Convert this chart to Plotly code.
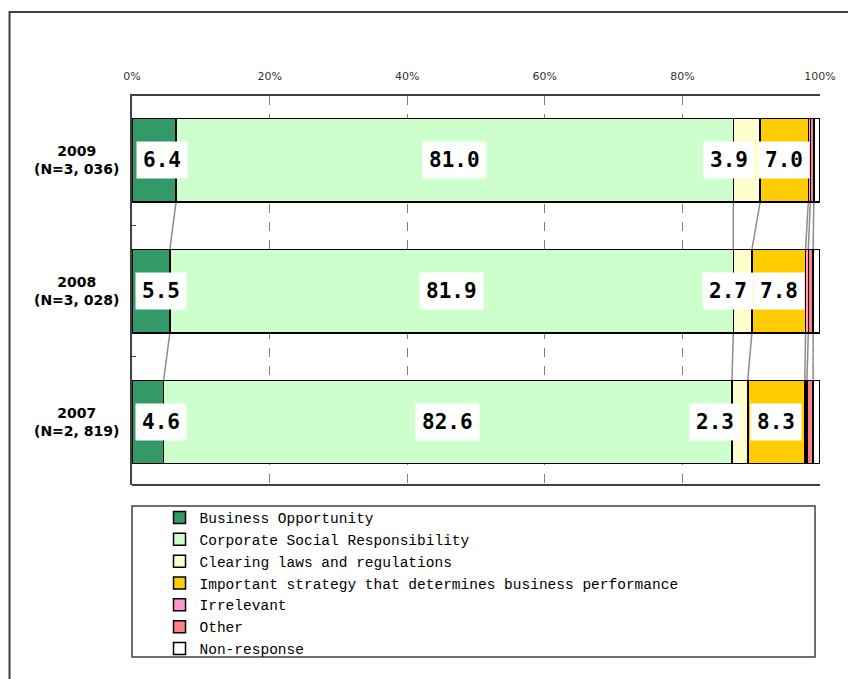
import plotly.graph_objects as go

categories = ["2009<br>(N=3, 036)", "2008<br>(N=3, 028)", "2007<br>(N=2, 819)"]
year_labels = ["2009", "2008", "2007"]
n_labels = ["(N=3, 036)", "(N=3, 028)", "(N=2, 819)"]
series_names = [
    "Business Opportunity",
    "Corporate Social Responsibility",
    "Clearing laws and regulations",
    "Important strategy that determines business performance",
    "Irrelevant",
    "Other",
    "Non-response",
]
business = [6.4, 5.5, 4.6]
csr = [81.0, 81.9, 82.6]
clearing = [3.9, 2.7, 2.3]
strategy = [7.0, 7.8, 8.3]
irrelevant = [0.3, 0.4, 0.3]
other = [0.5, 0.7, 0.9]
nonresp = [0.9, 1.0, 1.0]
tick_vals = [0, 20, 40, 60, 80, 100]
tick_text = ["0%", "20%", "40%", "60%", "80%", "100%"]

series = [business, csr, clearing, strategy, irrelevant, other, nonresp]
colors = ["#339966", "#CCFFCC", "#FFFFCC", "#FFCC00", "#FF99CC", "#FF8080", "#FFFFFF"]
BAR_W = 0.637

fig = go.Figure()
for name, vals, col in zip(series_names, series, colors):
    fig.add_trace(go.Bar(
        y=categories, x=vals, name=name, orientation="h",
        marker=dict(color=col, line=dict(color="#000000", width=1.5)),
        width=BAR_W, hoverinfo="x+name",
    ))

# cumulative boundaries
cums = []
for i in range(len(categories)):
    c = [0]
    for s in series:
        c.append(c[-1] + s[i])
    cums.append(c)

PH = 389.0  # plot height in px
shapes = []
# series connector lines
for i in range(len(categories) - 1):
    for k in range(1, len(series)):
        shapes.append(dict(
            type="line", xref="x", yref="y",
            x0=cums[i][k], y0=i + BAR_W / 2, x1=cums[i + 1][k], y1=i + 1 - BAR_W / 2,
            line=dict(color="#8c8c8c", width=1.5), layer="below",
        ))

# plot area bottom line
shapes.append(dict(type="line", xref="paper", yref="paper", x0=0, x1=1, y0=0, y1=0,
                   line=dict(color="#404040", width=2)))
# legend box
shapes.append(dict(type="rect", xref="paper", yref="paper",
                   x0=0, x1=(818 - 132) / 691, y0=(485 - 506) / PH, y1=(485 - 657) / PH,
                   line=dict(color="#404040", width=1.5), fillcolor="rgba(0,0,0,0)"))
# outer frame
shapes.append(dict(type="rect", xref="paper", yref="paper",
                   x0=(9 - 132) / 691, x1=(900 - 132) / 691,
                   y0=(485 - 720) / PH, y1=(485 - 12) / PH,
                   line=dict(color="#404040", width=2), fillcolor="rgba(0,0,0,0)"))

# data labels
xshifts = [[8, 0, -18, 0], [10, 0, -15, 0], [13, 0, -25, 0]]
annotations = []
for i, cat in enumerate(categories):
    for k in range(4):
        v = series[k][i]
        annotations.append(dict(
            x=cums[i][k] + v / 2, y=i, xref="x", yref="y",
            text="<b>%.1f</b>" % v, showarrow=False, xshift=xshifts[i][k],
            font=dict(family="DejaVu Sans Mono", size=21, color="#000000"),
            bgcolor="#FFFFFF", borderpad=6,
        ))

# category labels (centered two-line)
for i in range(len(categories)):
    annotations.append(dict(
        x=-0.016, y=i, xref="paper", yref="y", xanchor="right", yanchor="middle",
        text="<b>%s<br>%s</b>" % (year_labels[i], n_labels[i]), showarrow=False,
        align="center", font=dict(family="DejaVu Sans", size=14, color="#000000"),
    ))

fig.update_layout(
    barmode="stack",
    width=848, height=679,
    margin=dict(l=132, r=25, t=96, b=194),
    paper_bgcolor="#FFFFFF", plot_bgcolor="#FFFFFF",
    showlegend=True,
    legend=dict(
        x=0.04, xref="paper", y=1 - 501.5 / 679, yref="container",
        xanchor="left", yanchor="top",
        traceorder="normal", bgcolor="rgba(0,0,0,0)", borderwidth=0,
        font=dict(family="Liberation Mono", size=14.5, color="#000000"),
        itemwidth=30, tracegroupgap=0,
    ),
    xaxis=dict(
        side="top", range=[0, 100], tickvals=tick_vals, ticktext=tick_text,
        showgrid=True, gridcolor="#808080", griddash="dash", gridwidth=1,
        showline=True, linecolor="#404040", linewidth=2, mirror=False,
        ticks="", ticklabelstandoff=10, zeroline=False,
        tickfont=dict(family="DejaVu Sans", size=11, color="#333333"),
        fixedrange=True,
    ),
    yaxis=dict(
        categoryorder="array", categoryarray=categories,
        range=[2.481, -0.492],
        showline=True, linecolor="#404040", linewidth=2,
        ticks="inside", tickson="boundaries", ticklen=4, tickcolor="#404040",
        showticklabels=False,
        showgrid=False, zeroline=False, fixedrange=True,
    ),
    shapes=shapes,
    annotations=annotations,
    font=dict(family="DejaVu Sans"),
)

fig.write_html("out.html")
